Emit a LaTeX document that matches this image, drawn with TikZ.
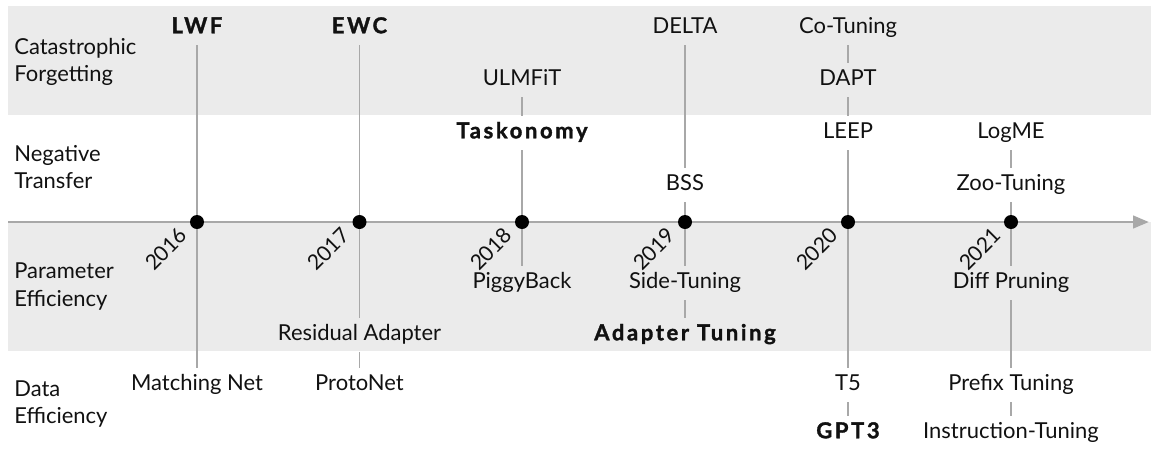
\documentclass[tikz,border=0pt]{standalone}
\usepackage{fontspec}
\setmainfont{Lato}
\definecolor{tlBand}{HTML}{EBEBEB}
\definecolor{tlLine}{HTML}{A8A8A8}
\definecolor{tlText}{HTML}{111111}
\usetikzlibrary{arrows.meta}

\begin{document}
\begin{tikzpicture}[
  area/.style={font=\fontsize{12.5}{15.4}\selectfont, text=tlText, anchor=west, align=left, inner sep=0pt},
  work/.style={font=\fontsize{12.5}{15}\selectfont, text=tlText, inner sep=0pt,
    minimum height=0.68cm, text height=9pt, text depth=3pt},
  key/.style={work, font=\fontsize{12.5}{15}\selectfont\bfseries\addfontfeatures{LetterSpace=12,FakeBold=1.5}},
  year/.style={font=\fontsize{12}{14}\selectfont, text=tlText, rotate=45, anchor=east, inner sep=0pt},
  dot/.style={circle, fill=black, inner sep=0pt, minimum size=0.28cm},
  link/.style={draw=tlLine, line width=1.1pt},
  axis/.style={-{Triangle[length=9pt,width=7pt]}, draw=tlLine, line width=1.7pt}
]
  \useasboundingbox (0,-4.64) rectangle (23.02,4.44);
  % Shaded bands
  \fill[tlBand] (0.16,4.32) rectangle (23.02,2.14);
  \fill[tlBand] (0.16,0) rectangle (23.02,-2.58);
  % Row labels
  \node[area] (forget) at (0.28,3.21) {Catastrophic\\Forgetting};
  \node[area] (negative) at (0.28,1.09) {Negative\\Transfer};
  \node[area] (param) at (0.28,-1.29) {Parameter\\Efficiency};
  \node[area] (data) at (0.28,-3.64) {Data\\Efficiency};
  % Time axis
  \coordinate (start) at (0.16,0);
  \coordinate (end) at (22.98,0);
  \draw[axis] (start) -- (end);
  % Year dots and rotated years
  \foreach \x/\yr in {3.94/2016, 7.19/2017, 10.44/2018, 13.70/2019, 16.96/2020, 20.22/2021} {
    \node[dot] (d\yr) at (\x,0) {};
    \node[year] (y\yr) at (\x-0.27,-0.19) {\yr};
  }
  % Works above the axis
  \node[key] (lwf) at (3.94,3.88) {LWF};
  \node[key] (ewc) at (7.19,3.88) {EWC};
  \node[work] (ulmfit) at (10.44,2.84) {ULMFiT};
  \node[key] (taskonomy) at (10.44,1.78) {Taskonomy};
  \node[work] (delta) at (13.70,3.88) {DELTA};
  \node[work] (bss) at (13.70,0.74) {BSS};
  \node[work] (cotuning) at (16.96,3.88) {Co-Tuning};
  \node[work] (dapt) at (16.96,2.84) {DAPT};
  \node[work] (leep) at (16.96,1.78) {LEEP};
  \node[work] (logme) at (20.22,1.78) {LogME};
  \node[work] (zootuning) at (20.22,0.74) {Zoo-Tuning};
  % Works below the axis
  \node[work] (matching) at (3.94,-3.26) {Matching Net};
  \node[work] (residual) at (7.19,-2.26) {Residual Adapter};
  \node[work] (protonet) at (7.19,-3.26) {ProtoNet};
  \node[work] (piggyback) at (10.44,-1.22) {PiggyBack};
  \node[work] (sidetuning) at (13.70,-1.22) {Side-Tuning};
  \node[key] (adapter) at (13.70,-2.26) {Adapter Tuning};
  \node[work] (t5) at (16.96,-3.26) {T5};
  \node[key] (gpt3) at (16.96,-4.22) {GPT3};
  \node[work] (diffpruning) at (20.22,-1.22) {Diff Pruning};
  \node[work] (prefix) at (20.22,-3.26) {Prefix Tuning};
  \node[work] (instruction) at (20.22,-4.22) {Instruction-Tuning};
  % Stems
  \draw[link] (d2016) -- (lwf);
  \draw[link] (d2017) -- (ewc);
  \draw[link] (ulmfit) -- (taskonomy);
  \draw[link] (taskonomy) -- (d2018);
  \draw[link] (delta) -- (bss);
  \draw[link] (bss) -- (d2019);
  \draw[link] (cotuning) -- (dapt);
  \draw[link] (dapt) -- (leep);
  \draw[link] (leep) -- (d2020);
  \draw[link] (logme) -- (zootuning);
  \draw[link] (zootuning) -- (d2021);
  \draw[link] (d2016) -- (matching);
  \draw[link] (d2017) -- (residual);
  \draw[link] (residual) -- (protonet);
  \draw[link] (d2018) -- (piggyback);
  \draw[link] (d2019) -- (sidetuning);
  \draw[link] (sidetuning) -- (adapter);
  \draw[link] (d2020) -- (t5);
  \draw[link] (t5) -- (gpt3);
  \draw[link] (d2021) -- (diffpruning);
  \draw[link] (diffpruning) -- (prefix);
  \draw[link] (prefix) -- (instruction);
\end{tikzpicture}
\end{document}
